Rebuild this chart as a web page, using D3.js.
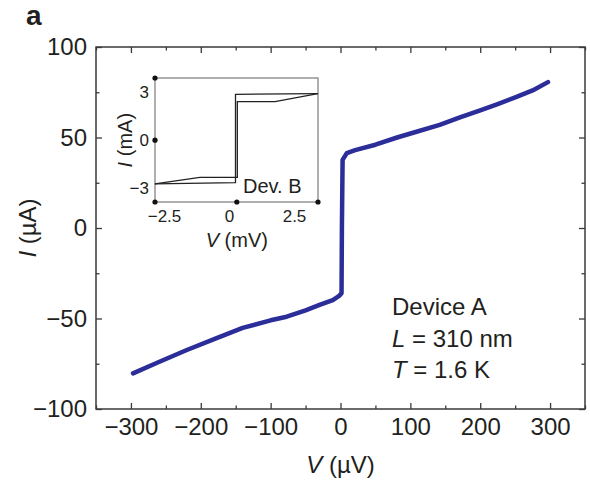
<!DOCTYPE html>
<html>
<head>
<meta charset="utf-8">
<script src="https://cdn.jsdelivr.net/npm/d3@7"></script>
<style>
  html, body { margin: 0; padding: 0; background: #fff; }
  svg text { font-family: "Liberation Sans", Arial, Helvetica, sans-serif; fill: #231f20; }
</style>
</head>
<body>
<svg id="chart" width="590" height="480"></svg>
<script>
// ---- Main data: Device A I–V curve ----
const voltageUV = [-297, -260, -220, -180, -140, -100, -77, -50, -30, -11, -2, 1.5, 2, 3, 9, 21, 50, 81, 110, 142, 170, 200, 225, 252, 275, 297];
const currentUA = [-80.3, -74, -67.4, -61.3, -55.2, -51, -49, -45.5, -42.5, -39.8, -37.5, -36, 0, 37.6, 41.4, 43, 46, 50, 53.3, 57, 61, 65, 68.5, 72.4, 76, 80.6];

// ---- Inset data: Device B hysteretic I–V (mV, mA) ----
const insetUpV = [-2.85, 0.25, 0.25, 3.42];
const insetUpI = [-2.72, -2.65, 2.85, 2.9];
const insetDownV = [3.42, 1.77, 0.32, 0.32, -1.12, -2.85];
const insetDownI = [2.9, 2.4, 2.4, -2.32, -2.32, -2.72];

// ---- Tick values ----
const xMajorTicks = [-300, -200, -100, 0, 100, 200, 300];
const xMinorTicks = [-350, -250, -150, -50, 50, 150, 250, 350];
const yMajorTicks = [-100, -50, 0, 50, 100];
const yMinorTicks = [-75, -25, 25, 75];
const insetXTicks = [-2.5, 0, 2.5];
const insetYTicks = [-3, 0, 3];

const svg = d3.select("#chart");
const FONT = 24;

// Main scales
const x = d3.scaleLinear().domain([-350, 350]).range([96, 585]);
const y = d3.scaleLinear().domain([-100, 100]).range([409, 47]);

const axisColor = "#3a3a3a";

function styleAxis(g) {
  g.select(".domain").remove();
  g.selectAll(".tick line").attr("stroke", axisColor).attr("stroke-width", 1.3);
  g.selectAll(".tick text").attr("font-size", FONT).attr("fill", "#231f20");
}

// bottom axis
svg.append("g").attr("transform", `translate(0,${y(-100)})`)
  .call(d3.axisBottom(x).tickValues(xMajorTicks).tickSize(-6).tickPadding(9))
  .call(styleAxis);
svg.append("g").attr("transform", `translate(0,${y(-100)})`)
  .call(d3.axisBottom(x).tickValues(xMinorTicks).tickSize(-3.5).tickFormat(""))
  .call(styleAxis);
// top axis
svg.append("g").attr("transform", `translate(0,${y(100)})`)
  .call(d3.axisTop(x).tickValues(xMajorTicks).tickSize(-6).tickFormat(""))
  .call(styleAxis);
svg.append("g").attr("transform", `translate(0,${y(100)})`)
  .call(d3.axisTop(x).tickValues(xMinorTicks).tickSize(-3.5).tickFormat(""))
  .call(styleAxis);
// left axis
svg.append("g").attr("transform", `translate(${x(-350)},0)`)
  .call(d3.axisLeft(y).tickValues(yMajorTicks).tickSize(-6).tickPadding(9))
  .call(styleAxis);
svg.append("g").attr("transform", `translate(${x(-350)},0)`)
  .call(d3.axisLeft(y).tickValues(yMinorTicks).tickSize(-3.5).tickFormat(""))
  .call(styleAxis);
// right axis
svg.append("g").attr("transform", `translate(${x(350)},0)`)
  .call(d3.axisRight(y).tickValues(yMajorTicks).tickSize(-6).tickFormat(""))
  .call(styleAxis);
svg.append("g").attr("transform", `translate(${x(350)},0)`)
  .call(d3.axisRight(y).tickValues(yMinorTicks).tickSize(-3.5).tickFormat(""))
  .call(styleAxis);

// frame
svg.append("rect")
  .attr("x", x(-350)).attr("y", y(100))
  .attr("width", x(350) - x(-350)).attr("height", y(-100) - y(100))
  .attr("fill", "none").attr("stroke", axisColor).attr("stroke-width", 1.5);

// main curve
const mainData = voltageUV.map((v, i) => [v, currentUA[i]]);
svg.append("path")
  .datum(mainData)
  .attr("fill", "none")
  .attr("stroke", "#2b2e98")
  .attr("stroke-width", 4.5)
  .attr("stroke-linejoin", "round")
  .attr("stroke-linecap", "round")
  .attr("d", d3.line().x(d => x(d[0])).y(d => y(d[1])));

// axis titles
const xt = svg.append("text").attr("x", x(0)).attr("y", 473).attr("text-anchor", "middle").attr("font-size", FONT);
xt.append("tspan").attr("font-style", "italic").text("V");
xt.append("tspan").text(" (µV)");

const yt = svg.append("text").attr("transform", `translate(36,${y(0)}) rotate(-90)`).attr("text-anchor", "middle").attr("font-size", FONT);
yt.append("tspan").attr("font-style", "italic").text("I");
yt.append("tspan").text(" (µA)");

// panel label
svg.append("text").attr("x", 26).attr("y", 25).attr("font-size", 28).attr("font-weight", "bold").text("a");

// annotation
const annX = 392;
svg.append("text").attr("x", annX).attr("y", 315).attr("font-size", FONT).text("Device A");
const l2 = svg.append("text").attr("x", annX).attr("y", 347).attr("font-size", FONT);
l2.append("tspan").attr("font-style", "italic").text("L");
l2.append("tspan").text(" = 310 nm");
const l3 = svg.append("text").attr("x", annX).attr("y", 378).attr("font-size", FONT);
l3.append("tspan").attr("font-style", "italic").text("T");
l3.append("tspan").text(" = 1.6 K");

// ---- Inset ----
const ix = d3.scaleLinear().domain([-2.846, 3.423]).range([155, 318]);
const iy = d3.scaleLinear().domain([-3.85, 3.87]).range([202, 78]);
const IFONT = 17;

svg.append("rect")
  .attr("x", ix.range()[0]).attr("y", iy.range()[1])
  .attr("width", ix.range()[1] - ix.range()[0]).attr("height", iy.range()[0] - iy.range()[1])
  .attr("fill", "#fff").attr("stroke", "#7a7a7a").attr("stroke-width", 1.2);

const iline = d3.line().x(d => ix(d[0])).y(d => iy(d[1]));
svg.append("path").datum(insetUpV.map((v, i) => [v, insetUpI[i]]))
  .attr("fill", "none").attr("stroke", "#222").attr("stroke-width", 1.3).attr("d", iline);
svg.append("path").datum(insetDownV.map((v, i) => [v, insetDownI[i]]))
  .attr("fill", "none").attr("stroke", "#222").attr("stroke-width", 1.3).attr("d", iline);

// inset axes (labels only; tick marks appear as dots)
const ixa = svg.append("g").attr("transform", `translate(0,${iy(-3.85)})`)
  .call(d3.axisBottom(ix).tickValues(insetXTicks).tickSize(0).tickPadding(8).tickFormat(d3.format("")));
ixa.select(".domain").remove();
ixa.selectAll("text").attr("font-size", IFONT).attr("fill", "#231f20");
const iya = svg.append("g").attr("transform", `translate(${ix(-2.846)},0)`)
  .call(d3.axisLeft(iy).tickValues(insetYTicks).tickSize(0).tickPadding(6).tickFormat(d3.format("")));
iya.select(".domain").remove();
iya.selectAll("text").attr("font-size", IFONT).attr("fill", "#231f20");

const insetDots = [[-2.846, 3.87], [-2.846, 0], [-2.846, -3.85], [0.3, -3.85], [3.423, -3.85]];
svg.selectAll("circle.idot").data(insetDots).enter().append("circle")
  .attr("class", "idot").attr("cx", d => ix(d[0])).attr("cy", d => iy(d[1])).attr("r", 2.6).attr("fill", "#111");

const ixt = svg.append("text").attr("x", ix(0.3)).attr("y", 247).attr("text-anchor", "middle").attr("font-size", 20);
ixt.append("tspan").attr("font-style", "italic").text("V");
ixt.append("tspan").text(" (mV)");
const iyt = svg.append("text").attr("transform", `translate(132,${iy(0)}) rotate(-90)`).attr("text-anchor", "middle").attr("font-size", 20);
iyt.append("tspan").attr("font-style", "italic").text("I");
iyt.append("tspan").text(" (mA)");

svg.append("text").attr("x", 243).attr("y", 193).attr("font-size", 20).text("Dev. B");
</script>
</body>
</html>
